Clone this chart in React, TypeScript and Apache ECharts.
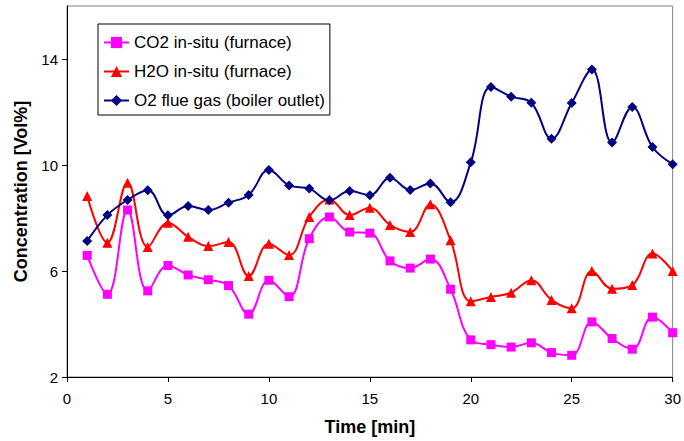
import React, { useEffect, useRef } from "react";
import * as echarts from "echarts";

const timeMin = [1,2,3,4,5,6,7,8,9,10,11,12,13,14,15,16,17,18,19,20,21,22,23,24,25,26,27,28,29,30];
const co2 = [6.59,5.12,8.30,5.25,6.21,5.85,5.67,5.45,4.37,5.65,5.03,7.22,8.04,7.47,7.43,6.38,6.11,6.45,5.31,3.40,3.22,3.13,3.29,2.92,2.82,4.08,3.45,3.05,4.26,3.67];
const h2o = [8.83,7.07,9.33,6.91,7.82,7.29,6.94,7.09,5.81,7.03,6.60,8.04,8.70,8.11,8.39,7.74,7.47,8.52,7.16,4.86,5.02,5.18,5.65,4.91,4.59,6.00,5.33,5.47,6.66,6.00];
const o2 = [7.13,8.11,8.68,9.05,8.10,8.45,8.30,8.58,8.87,9.81,9.23,9.11,8.67,9.02,8.86,9.52,9.06,9.30,8.59,10.10,12.94,12.58,12.35,10.99,12.34,13.60,10.85,12.19,10.68,10.03];
const yTicks = [2, 6, 10, 14];
const seriesNames = ["CO2 in-situ (furnace)", "H2O in-situ (furnace)", "O2 flue gas (boiler outlet)"];

const FONT = "Arial, 'Liberation Sans', sans-serif";

export default function App() {
  const ref = useRef<HTMLDivElement>(null);
  useEffect(() => {
    if (!ref.current) return;
    const chart = echarts.init(ref.current, null, { renderer: "svg" });
    const mk = (vals: number[]) => timeMin.map((t, i) => [t, vals[i]]);
    chart.setOption({
      animation: false,
      backgroundColor: "#ffffff",
      textStyle: { fontFamily: FONT },
      grid: {
        left: 67, right: 6, top: 6, bottom: 64,
        show: true, borderColor: "#808080", borderWidth: 1,
      },
      legend: {
        orient: "vertical",
        left: 98, top: 24,
        padding: [10, 5, 6, 5],
        borderColor: "#000", borderWidth: 1,
        backgroundColor: "#fff",
        itemWidth: 25, itemHeight: 14, itemGap: 12,
        textStyle: { fontFamily: FONT, fontSize: 17, color: "#000", lineHeight: 14 },
        data: seriesNames,
      },
      xAxis: {
        type: "value", min: 0, max: 30, interval: 5,
        name: "Time [min]", nameLocation: "middle", nameGap: 41,
        nameTextStyle: { fontFamily: FONT, fontSize: 18, fontWeight: "bold", color: "#000" },
        axisLine: { lineStyle: { color: "#000", width: 1 } },
        axisTick: { show: true, inside: false, length: 5, lineStyle: { color: "#000" } },
        axisLabel: { color: "#000", fontSize: 15, fontFamily: FONT, margin: 14 },
        splitLine: { show: false },
      },
      yAxis: {
        type: "value", min: 2, max: 16,
        name: "Concentration [Vol%]", nameLocation: "middle", nameGap: 33,
        nameTextStyle: { fontFamily: FONT, fontSize: 18, fontWeight: "bold", color: "#000" },
        axisLine: { show: true, lineStyle: { color: "#000", width: 1 } },
        axisTick: { show: true, length: 5, lineStyle: { color: "#000" }, customValues: yTicks },
        axisLabel: { color: "#000", fontSize: 15, fontFamily: FONT, margin: 9, customValues: yTicks },
        splitLine: { show: false },
      },
      series: [
        {
          name: seriesNames[0], type: "line", data: mk(co2), smooth: 0.4,
          symbol: "rect", symbolSize: 9,
          lineStyle: { color: "#FF00FF", width: 2 }, itemStyle: { color: "#FF00FF" },
        },
        {
          name: seriesNames[1], type: "line", data: mk(h2o), smooth: 0.4,
          symbol: "triangle", symbolSize: 10,
          lineStyle: { color: "#FF0000", width: 2 }, itemStyle: { color: "#FF0000" },
        },
        {
          name: seriesNames[2], type: "line", data: mk(o2), smooth: 0.4,
          symbol: "diamond", symbolSize: 10,
          lineStyle: { color: "#000080", width: 2 }, itemStyle: { color: "#000080" },
        },
      ],
    });
    return () => chart.dispose();
  }, []);
  return (
    <div
      ref={ref}
      style={{ position: "fixed", left: 0, top: 0, width: 684, height: 441, background: "#fff" }}
    />
  );
}
